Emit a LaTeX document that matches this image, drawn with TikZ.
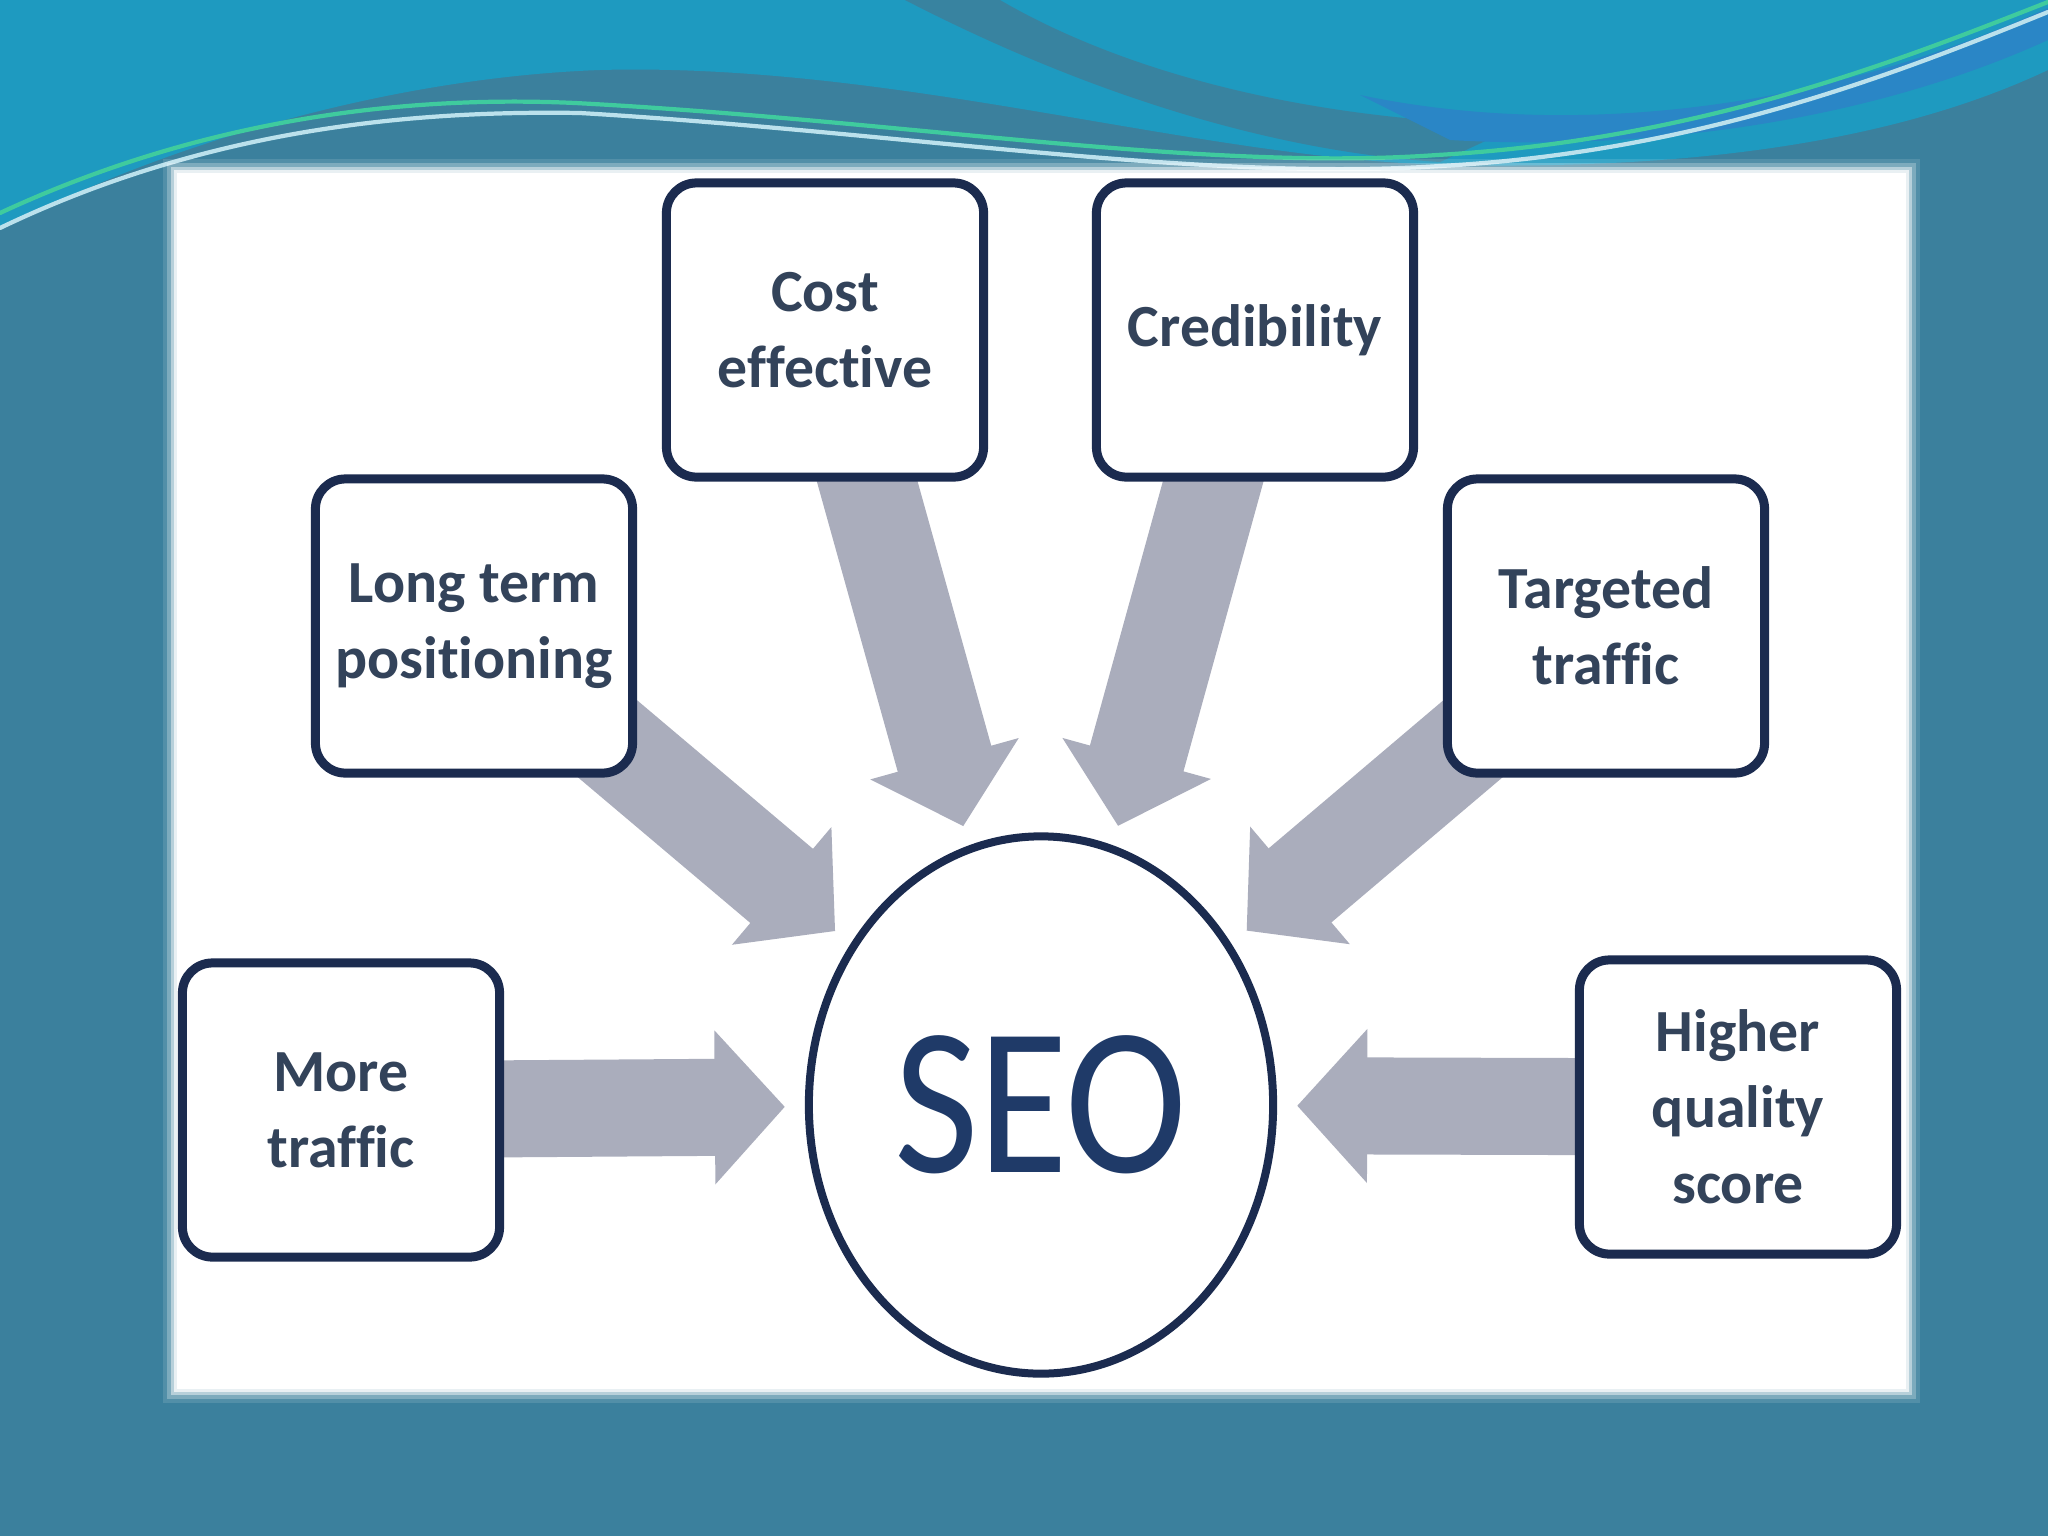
\documentclass[tikz,border=0pt]{standalone}
\usepackage{fontspec}
\setmainfont{Carlito}[Ligatures=NoCommon]
\usetikzlibrary{arrows.meta, shapes.geometric}
\definecolor{seoSea}{HTML}{3B809D}
\definecolor{seoCyan}{HTML}{1E9AC0}
\definecolor{seoBlue}{HTML}{2A86C6}
\definecolor{seoNavy}{HTML}{1B2B4F}
\definecolor{seoInk}{HTML}{33435A}
\definecolor{seoHub}{HTML}{1F3A68}
\definecolor{seoGrey}{HTML}{AAADBC}
\definecolor{seoLeaf}{HTML}{3FCB9E}
\pgfdeclarelayer{back}
\pgfdeclarelayer{links}
\pgfsetlayers{back,links,main}
\tikzset{
  benefit/.style={
    draw=seoNavy, line width=0.09cm, rounded corners=0.3cm,
    fill=white, inner sep=0pt, align=center,
    minimum width=3.17cm, minimum height=2.94cm,
    text=seoInk, font=\fontsize{17}{21.6}\selectfont\bfseries
  },
  hub/.style={ellipse, draw=seoNavy, line width=0.08cm, fill=white,
    minimum width=4.64cm, minimum height=5.37cm, inner sep=0pt,
    text=seoHub, font=\fontsize{60}{60}\selectfont},
  push/.style={-{Triangle[length=7mm, width=15mm]}, line width=9.7mm,
    draw=seoGrey, shorten >=2mm},
  swoosh/.style={line width=1.2pt, line cap=round},
}

\begin{document}
\begin{tikzpicture}[x=0.01cm, y=-0.01cm]
  \useasboundingbox (0,0) rectangle (2048,1536);
  \begin{pgfonlayer}{back}
    \fill[seoSea] (0,0) rectangle (2048,1536);
    \fill[seoCyan] (0,0) -- (2048,0) -- (2048,70)
      .. controls (1900,140) and (1700,170) .. (1450,165)
      .. controls (1200,160) and (900,62) .. (600,70)
      .. controls (380,78) and (150,150) .. (0,230) -- cycle;
    \fill[seoSea!90!seoCyan] (905,0) -- (1000,0)
      .. controls (1120,70) and (1300,120) .. (1520,125)
      -- (1440,162) .. controls (1250,150) and (1060,80) .. (905,0) -- cycle;
    \fill[seoBlue] (1360,95) .. controls (1550,135) and (1800,120) .. (2048,8)
      -- (2048,40) .. controls (1850,130) and (1620,150) .. (1450,140) -- cycle;
    \draw[swoosh, seoLeaf] (0,213) .. controls (200,120) and (400,95) .. (575,103)
      .. controls (900,120) and (1200,172) .. (1437,155)
      .. controls (1700,140) and (1900,60) .. (2048,2);
    \draw[swoosh, white!70!seoCyan] (0,228) .. controls (200,132) and (400,110) .. (580,113)
      .. controls (900,132) and (1200,182) .. (1440,166)
      .. controls (1700,152) and (1900,72) .. (2048,12);
    % soft edge of the panel
    \foreach \d/\o in {14/0.12, 10/0.25, 6/0.45, 3/0.7}
      \fill[white, opacity=\o] (177-\d,173-\d) rectangle (1906+\d,1389+\d);
    \fill[white] (177,173) rectangle (1906,1389);
  \end{pgfonlayer}

  \node[benefit] (cost) at (825,330)  {Cost\\effective};
  \node[benefit] (cred) at (1255,330) {Credibility};
  \node[benefit] (long) at (474,626)  {Long term\\positioning};
  \node[benefit] (targ) at (1606,626) {Targeted\\traffic};
  \node[benefit] (more) at (341,1110) {More\\traffic};
  \node[benefit] (high) at (1738,1107) {Higher\\quality\\score};
  \node[hub] (seo) at (1041,1105) {\scalebox{0.87}[1]{SEO}};

  \begin{pgfonlayer}{links}
    \draw[push] (cost.center) -- (seo);
    \draw[push] (cred.center) -- (seo);
    \draw[push] (long.center) -- (seo);
    \draw[push] (targ.center) -- (seo);
    \draw[push] (more.center) -- (seo);
    \draw[push] (high.center) -- (seo);
  \end{pgfonlayer}
\end{tikzpicture}
\end{document}
